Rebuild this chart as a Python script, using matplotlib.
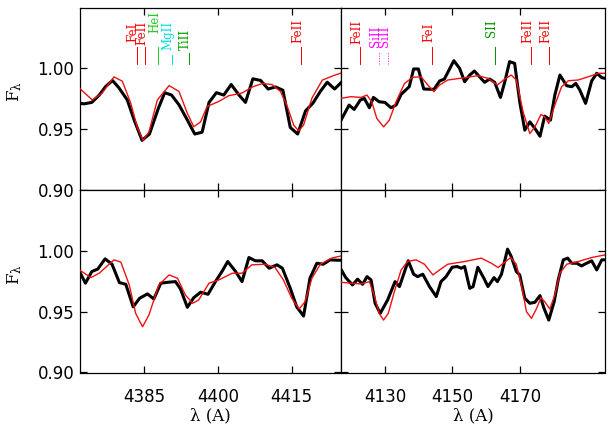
import matplotlib
matplotlib.use('Agg')
import matplotlib.pyplot as plt
import numpy as np

# ---- data ----
# top-left (4372-4425 A)
wl_obs_tl = [4371.8, 4372.8, 4374.4, 4375.9, 4377.2, 4378.6, 4379.9, 4381.6, 4383.0, 4384.6,
             4386.1, 4387.9, 4389.2, 4390.6, 4392.1, 4393.8, 4395.3, 4396.8, 4398.2, 4399.7,
             4401.2, 4402.7, 4404.3, 4405.6, 4407.1, 4408.7, 4410.2, 4411.7, 4413.2, 4414.7,
             4416.2, 4417.8, 4419.3, 4420.8, 4422.2, 4423.7, 4425.1]
fl_obs_tl = [0.9714, 0.9708, 0.972, 0.978, 0.985, 0.990, 0.984, 0.974, 0.9575, 0.9408,
             0.946, 0.967, 0.980, 0.978, 0.970, 0.9575, 0.946, 0.9475, 0.972, 0.980,
             0.978, 0.9867, 0.978, 0.972, 0.9914, 0.990, 0.983, 0.9847, 0.982, 0.9514,
             0.946, 0.965, 0.9714, 0.981, 0.9886, 0.983, 0.9886]
wl_mod_tl = [4371.8, 4374.5, 4376.5, 4378.9, 4380.6, 4382.3, 4383.6, 4384.8, 4386.0, 4387.7,
             4390.1, 4392.1, 4393.8, 4395.1, 4396.5, 4397.8, 4400.2, 4402.2, 4404.9, 4407.0,
             4409.0, 4411.0, 4412.7, 4414.1, 4415.4, 4416.4, 4417.4, 4419.1, 4421.2, 4423.2,
             4425.2]
fl_mod_tl = [0.984, 0.974, 0.9797, 0.993, 0.9894, 0.9714, 0.952, 0.9408, 0.9477, 0.974,
             0.9858, 0.981, 0.963, 0.952, 0.956, 0.9686, 0.9728, 0.9775, 0.9797, 0.9847,
             0.9875, 0.9867, 0.981, 0.9686, 0.9533, 0.9486, 0.9533, 0.9755, 0.9903, 0.9936,
             0.9964]

# bottom-left
wl_obs_bl = [4371.9, 4373.1, 4374.4, 4375.6, 4377.1, 4378.5, 4380.0, 4381.3, 4382.8, 4384.1,
             4385.7, 4387.0, 4388.4, 4389.9, 4391.4, 4392.4, 4393.8, 4395.1, 4396.5, 4398.0,
             4399.5, 4400.9, 4402.0, 4403.6, 4404.9, 4406.3, 4407.6, 4409.0, 4410.4, 4412.0,
             4413.1, 4414.7, 4416.0, 4417.4, 4418.7, 4420.1, 4421.4, 4422.8, 4424.1, 4425.1]
fl_obs_bl = [0.983, 0.9734, 0.983, 0.985, 0.9934, 0.989, 0.9739, 0.9725, 0.954, 0.961,
             0.9646, 0.9604, 0.9734, 0.9742, 0.9747, 0.9687, 0.9536, 0.9615, 0.966, 0.9643,
             0.9747, 0.9835, 0.9912, 0.983, 0.9747, 0.9945, 0.9918, 0.9918, 0.9857, 0.9885,
             0.9857, 0.9692, 0.954, 0.9464, 0.9775, 0.9898, 0.989, 0.9926, 0.9923, 0.9923]
wl_mod_bl = [4371.9, 4374.2, 4375.9, 4378.9, 4380.3, 4382.0, 4383.3, 4384.7, 4386.0, 4388.0,
             4390.1, 4391.8, 4393.4, 4394.9, 4396.1, 4398.2, 4400.2, 4402.9, 4404.9, 4406.9,
             4409.6, 4411.6, 4413.3, 4415.0, 4416.5, 4417.7, 4419.1, 4420.8, 4423.1, 4425.1]
fl_mod_bl = [0.9843, 0.978, 0.9816, 0.9926, 0.9907, 0.972, 0.9486, 0.9376, 0.9473, 0.972,
             0.9802, 0.9775, 0.9637, 0.9569, 0.9596, 0.9734, 0.9761, 0.9816, 0.9816, 0.9885,
             0.989, 0.9863, 0.9761, 0.961, 0.9522, 0.9582, 0.9775, 0.989, 0.994, 0.9959]

# top-right (4117-4195 A)
wl_obs_tr = [4117.0, 4119.4, 4120.9, 4122.7, 4123.9, 4125.4, 4126.6, 4128.3, 4130.0, 4131.8,
             4133.3, 4134.8, 4137.2, 4138.5, 4139.9, 4141.5, 4144.5, 4146.2, 4147.6, 4150.4,
             4152.1, 4153.6, 4155.1, 4156.5, 4158.0, 4159.5, 4161.0, 4162.5, 4164.2, 4165.5,
             4166.9, 4168.4, 4169.9, 4171.4, 4172.9, 4174.4, 4175.9, 4177.3, 4179.0, 4180.3,
             4181.8, 4183.8, 4185.3, 4186.5, 4187.7, 4189.4, 4191.2, 4192.7, 4194.2, 4195.2]
fl_obs_tr = [0.9574, 0.9698, 0.9662, 0.9739, 0.9753, 0.9676, 0.9761, 0.9725, 0.972, 0.9676,
             0.9698, 0.9786, 0.9849, 0.9995, 0.9995, 0.983, 0.9827, 0.9896, 0.9912, 1.0063,
             1.000, 0.989, 0.9945, 0.9978, 0.9931, 0.9885, 0.9912, 0.9885, 0.9761, 0.989,
             1.0055, 1.0041, 0.9725, 0.9492, 0.956, 0.9506, 0.9442, 0.9607, 0.9574, 0.978,
             0.9945, 0.9857, 0.9849, 0.9876, 0.9821, 0.9712, 0.9896, 0.9959, 0.9923, 0.9918]
wl_mod_tr = [4116.9, 4119.9, 4122.9, 4124.7, 4126.1, 4127.6, 4129.6, 4131.3, 4133.3, 4135.8,
             4138.2, 4140.7, 4142.7, 4144.5, 4146.2, 4148.6, 4153.6, 4157.5, 4160.5, 4163.3,
             4165.5, 4167.4, 4168.9, 4170.9, 4172.9, 4174.4, 4176.2, 4177.3, 4178.5, 4180.3,
             4182.3, 4184.3, 4187.2, 4190.2, 4193.2, 4195.2]
fl_mod_tr = [0.9753, 0.9767, 0.9761, 0.978, 0.9725, 0.9588, 0.9519, 0.9574, 0.9725, 0.9876,
             0.9926, 0.9931, 0.9863, 0.9808, 0.9863, 0.9904, 0.9923, 0.994, 0.9918, 0.9863,
             0.9912, 0.9945, 0.9904, 0.9643, 0.9464, 0.9519, 0.9621, 0.9602, 0.9547, 0.9698,
             0.9849, 0.9898, 0.9904, 0.9931, 0.9959, 0.9959]

# bottom-right
wl_obs_br = [4117.1, 4118.4, 4120.4, 4121.9, 4123.4, 4124.7, 4125.9, 4127.1, 4128.6, 4130.8,
             4133.0, 4134.3, 4136.9, 4138.5, 4139.7, 4141.2, 4143.2, 4145.2, 4146.6, 4148.1,
             4149.9, 4151.4, 4152.6, 4153.6, 4155.1, 4156.1, 4157.5, 4159.3, 4160.5, 4162.3,
             4163.3, 4164.5, 4166.3, 4167.4, 4168.9, 4169.9, 4171.4, 4172.9, 4174.4, 4175.9,
             4177.1, 4178.5, 4180.1, 4181.3, 4182.8, 4184.1, 4185.3, 4186.8, 4188.2, 4189.7,
             4191.2, 4192.7, 4194.2, 4195.2]
fl_obs_br = [0.9843, 0.978, 0.972, 0.9767, 0.9725, 0.9788, 0.9761, 0.9569, 0.9486, 0.9596,
             0.9747, 0.9706, 0.9918, 0.9808, 0.9788, 0.9808, 0.9706, 0.9624, 0.9747, 0.9788,
             0.9865, 0.9871, 0.9857, 0.9871, 0.9692, 0.9706, 0.9865, 0.9775, 0.9706, 0.978,
             0.9747, 0.9808, 1.0014, 0.9953, 0.983, 0.9802, 0.961, 0.9569, 0.9577, 0.9632,
             0.9527, 0.9431, 0.9582, 0.9761, 0.9926, 0.994, 0.9898, 0.9898, 0.9876, 0.9898,
             0.9918, 0.9843, 0.9926, 0.9926]
wl_mod_br = [4116.9, 4119.9, 4122.9, 4125.4, 4126.8, 4128.3, 4129.6, 4131.0, 4132.8, 4134.8,
             4136.7, 4139.2, 4141.7, 4144.2, 4146.2, 4148.6, 4153.6, 4158.5, 4161.5, 4163.5,
             4165.5, 4167.2, 4168.9, 4170.6, 4171.9, 4173.4, 4174.9, 4176.2, 4177.3, 4178.8,
             4180.3, 4181.8, 4183.8, 4187.2, 4191.2, 4195.2]
fl_mod_br = [0.9742, 0.9734, 0.9728, 0.9747, 0.9637, 0.9486, 0.9431, 0.9486, 0.9665, 0.9843,
             0.9912, 0.9926, 0.989, 0.9802, 0.9843, 0.989, 0.9912, 0.994, 0.9898, 0.9863,
             0.9907, 0.9945, 0.989, 0.9692, 0.95, 0.9445, 0.9527, 0.9615, 0.9582, 0.9522,
             0.9637, 0.9816, 0.989, 0.9912, 0.9945, 0.9967]

# line identifications
ids_left_wl = [4383.5, 4385.3, 4387.9, 4390.6, 4394.1, 4416.9]
ids_left_name = ['FeI', 'FeII', 'HeI', 'MgII', 'TiII', 'FeII']
ids_right_wl = [4122.7, 4128.2, 4130.8, 4143.9, 4162.5, 4173.3, 4178.7]
ids_right_name = ['FeII', 'SiII', 'SiII', 'FeI', 'SII', 'FeII', 'FeII']

xticks_left = [4385, 4400, 4415]
xticks_right = [4130, 4150, 4170]
yticks = [0.90, 0.95, 1.00]

# ---- styles ----
ion_color = {'FeI': '#ff0000', 'FeII': '#ff0000', 'HeI': '#22cc22', 'MgII': '#00dddd',
             'TiII': '#00a000', 'SiII': '#ff00ff', 'SII': '#009000'}
ion_style = {'SiII': ':'}
# per-label layout: (text start, line top) in flux units
lay_left = [(1.0213, 1.0172), (1.0189, 1.0172), (1.0287, 1.0172),
            (1.0148, 1.0107), (1.0148, 1.0125), (1.0205, 1.0172)]
lay_right = [(1.0197, 1.0172), (1.0172, 1.0131), (1.0172, 1.0131), (1.0213, 1.0172),
             (1.0254, 1.0172), (1.0205, 1.0172), (1.0205, 1.0172)]

fig = plt.figure(figsize=(6.12, 4.32), dpi=100)

xl0, xl1, xr1 = 80 / 612, 341 / 612, 604.5 / 612
yb0, ym, yt1 = 1 - 372.5 / 432, 1 - 190 / 432, 1 - 7.5 / 432

ax_tl = fig.add_axes([xl0, ym, xl1 - xl0, yt1 - ym])
ax_tr = fig.add_axes([xl1, ym, xr1 - xl1, yt1 - ym])
ax_bl = fig.add_axes([xl0, yb0, xl1 - xl0, ym - yb0])
ax_br = fig.add_axes([xl1, yb0, xr1 - xl1, ym - yb0])

panels = [
    (ax_tl, wl_obs_tl, fl_obs_tl, wl_mod_tl, fl_mod_tl, (4372, 4425), xticks_left),
    (ax_tr, wl_obs_tr, fl_obs_tr, wl_mod_tr, fl_mod_tr, (4117, 4195), xticks_right),
    (ax_bl, wl_obs_bl, fl_obs_bl, wl_mod_bl, fl_mod_bl, (4372, 4425), xticks_left),
    (ax_br, wl_obs_br, fl_obs_br, wl_mod_br, fl_mod_br, (4117, 4195), xticks_right),
]

for i, (ax, wo, fo, wm, fm, xlim, xt) in enumerate(panels):
    ax.plot(wo, fo, color='black', lw=2.2, zorder=3)
    ax.plot(wm, fm, color='#ee1111', lw=1.0, zorder=4)
    ax.set_xlim(*xlim)
    ax.set_ylim(0.90, 1.05)
    ax.set_xticks(xt)
    ax.set_yticks(yticks)
    ax.tick_params(direction='in', length=5, width=0.9, top=True, right=True,
                   labelsize=12, pad=4)
    ax.tick_params(axis='x', pad=11)
    for sp in ax.spines.values():
        sp.set_linewidth(0.9)
    if i < 2:
        ax.set_xticklabels([])
    if i % 2 == 1:
        ax.set_yticklabels([])
    else:
        ax.set_yticklabels(['0.90', '0.95', '1.00'])


def mark_lines(ax, wls, names, layout):
    for wl, nm, (ts, ltop) in zip(wls, names, layout):
        c = ion_color[nm]
        ax.plot([wl, wl], [1.0033, ltop], color=c, lw=0.7,
                ls=ion_style.get(nm, '-'), zorder=2)
        ax.text(wl, ts, nm, color=c, rotation=90, rotation_mode='anchor',
                ha='left', va='baseline', fontsize=8.5, family='DejaVu Serif')


mark_lines(ax_tl, ids_left_wl, ids_left_name, lay_left)
mark_lines(ax_tr, ids_right_wl, ids_right_name, lay_right)

for yc in (92, 275):
    fig.text(15 / 612, 1 - yc / 432, r'$\mathregular{F_λ}$', rotation=90, ha='center',
             va='center', fontsize=12, family='DejaVu Serif')
for xc in (210, 473):
    fig.text(xc / 612, 1 - 416 / 432, 'λ (A)', ha='center', va='center',
             fontsize=12, family='DejaVu Serif')

fig.savefig('out.png', dpi=100)
